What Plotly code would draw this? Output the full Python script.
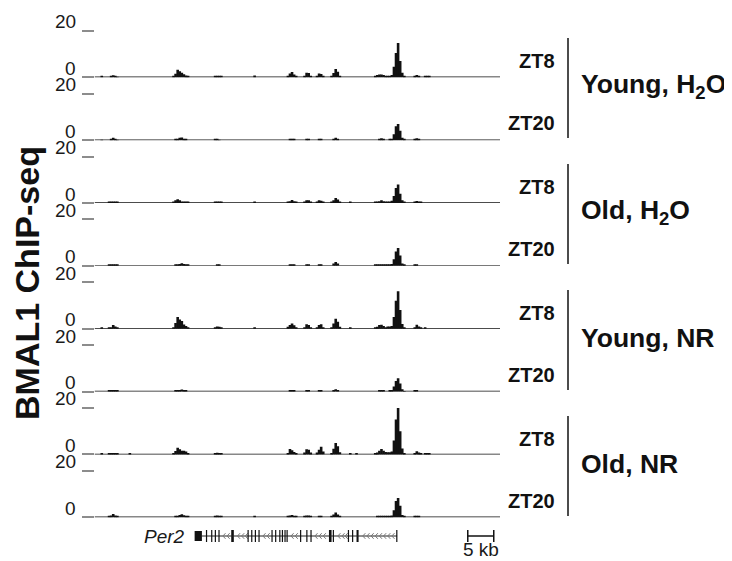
import plotly.graph_objects as go

# ---------------- data ----------------
track_names = ["Young H2O ZT8", "Young H2O ZT20", "Old H2O ZT8", "Old H2O ZT20",
               "Young NR ZT8", "Young NR ZT20", "Old NR ZT8", "Old NR ZT20"]

# genomic bin centres (kb) of the signal; 0.4 kb bins
bin_kb = [1.4, 2.8, 3.2, 3.6, 4.0, 4.4, 6.8,
          15.2, 15.6, 16.0, 16.4, 16.8, 17.2, 17.6, 18.0,
          23.2, 23.6, 24.0, 24.4,
          30.8,
          37.2, 37.6, 38.0, 38.4, 38.8,
          40.4, 40.8, 41.2, 41.6,
          42.8, 43.2, 43.6, 44.0,
          45.6, 46.0, 46.4, 46.8, 47.2,
          49.2, 50.4,
          54.0, 54.4, 54.8, 55.2, 55.6, 56.0, 56.4,
          56.8, 57.2, 57.6, 58.0, 58.4, 58.8, 59.2, 59.6,
          61.6, 62.0, 62.4, 62.8, 63.6, 64.0, 64.4]

young_h2o_zt8 = [0.4, 0, 0.3, 0.9, 0.6, 0.2, 0,
                 0.3, 1.5, 3.2, 2.6, 2.0, 1.3, 0.8, 0.3,
                 0.4, 0.6, 0.5, 0.3,
                 0.8,
                 0.6, 1.6, 2.3, 1.2, 0.5,
                 0.7, 2.0, 1.8, 0.6,
                 0.6, 1.6, 1.4, 0.5,
                 0.4, 1.8, 3.6, 2.4, 0.6,
                 0, 0,
                 0.3, 1.0, 1.2, 1.2, 1.0, 0.4, 0.5,
                 0.6, 1.0, 4.5, 10.5, 14.8, 7.0, 2.0, 0.4,
                 0.4, 1.0, 0.5, 0, 0.3, 0.4, 0.3]
young_h2o_zt20 = [0.2, 0, 0.3, 1.0, 0.6, 0.2, 0,
                  0, 0.4, 0.6, 1.0, 1.1, 0.6, 0.3, 0,
                  0.3, 0.4, 0.2, 0,
                  0,
                  0, 0.4, 0.4, 0.3, 0,
                  0, 0.4, 0.4, 0,
                  0, 0.4, 0.3, 0,
                  0, 0.6, 1.0, 0.6, 0,
                  0, 0,
                  0, 0, 0.6, 0.8, 0.5, 0, 0,
                  0.3, 0.5, 2.5, 6.0, 7.0, 4.0, 1.0, 0.3,
                  0.3, 0.8, 0.4, 0, 0, 0, 0]
old_h2o_zt8 = [0, 0.3, 0.4, 0.6, 0.4, 0.3, 0,
               0.3, 1.2, 1.6, 1.2, 0.6, 0.5, 0.4, 0.3,
               0.4, 0.4, 0.3, 0.4,
               0.4,
               0.3, 0.8, 1.3, 0.8, 0.3,
               0.4, 1.2, 1.2, 0.5,
               0.4, 1.2, 1.0, 0.3,
               0.3, 1.2, 2.2, 1.5, 0.3,
               0.4, 0,
               0.4, 0.6, 0.8, 1.2, 0.8, 0.5, 0.3,
               0.6, 1.0, 3.0, 6.5, 8.0, 4.0, 1.2, 0.3,
               0.5, 0.9, 0.4, 0.4, 0, 0, 0]
old_h2o_zt20 = [0, 0.3, 0.4, 0.7, 0.5, 0.3, 0,
                0, 0.4, 0.6, 0.8, 1.1, 0.8, 0.5, 0.3,
                0, 0.4, 0.4, 0,
                0,
                0, 0.4, 0.5, 0.3, 0,
                0, 0.4, 0.4, 0,
                0, 0.4, 0.3, 0,
                0, 1.0, 1.7, 1.0, 0,
                0, 0,
                0.3, 0.4, 0.4, 0.5, 0.5, 0.6, 0.6,
                0.6, 0.8, 2.8, 6.2, 7.7, 4.5, 1.0, 0.3,
                0.3, 0.5, 0, 0, 0, 0, 0]
young_nr_zt8 = [0.4, 0.3, 0.6, 1.6, 1.0, 0.4, 0,
                0.5, 2.5, 5.0, 4.0, 3.3, 1.8, 1.2, 0.5,
                0.4, 0.9, 0.8, 0.4,
                0.4,
                0.8, 1.6, 2.2, 1.5, 0.6,
                0.6, 1.9, 1.6, 0.5,
                0.5, 1.6, 1.9, 0.6,
                0.5, 2.2, 4.3, 3.0, 0.8,
                0.3, 0,
                0.3, 0.8, 1.6, 1.7, 1.2, 0.6, 0.9,
                0.9, 1.2, 5.0, 12.0, 16.1, 8.0, 2.0, 0.4,
                0.5, 1.7, 1.0, 0.4, 0.3, 0, 0]
young_nr_zt20 = [0, 0.3, 0.3, 0.5, 0.4, 0.3, 0,
                 0, 0.3, 0.5, 0.7, 0.9, 0.6, 0.4, 0,
                 0, 0, 0, 0,
                 0,
                 0, 0.4, 0.5, 0.3, 0,
                 0, 0.4, 0.3, 0,
                 0, 0.4, 0.3, 0,
                 0, 0.5, 1.0, 0.6, 0,
                 0, 0,
                 0, 0, 0.4, 0.5, 0.4, 0, 0,
                 0.3, 0.6, 2.2, 4.5, 5.7, 3.5, 1.0, 0.2,
                 0.3, 0.4, 0, 0, 0, 0, 0]
old_nr_zt8 = [0.4, 0.4, 0.4, 0.5, 0.4, 0.4, 0.4,
              0.4, 1.5, 2.9, 2.2, 1.6, 1.6, 1.2, 0.5,
              0.4, 0.7, 0.6, 0.3,
              0,
              0.6, 2.3, 1.8, 1.0, 0.5,
              0.8, 2.2, 2.0, 0.8,
              0.8, 2.0, 3.3, 1.2,
              0.6, 2.4, 4.9, 3.5, 0.9,
              0.4, 0.4,
              0.4, 0.8, 1.6, 2.3, 1.6, 1.0, 0.9,
              0.9, 1.3, 6.0, 15.0, 20.0, 10.0, 2.5, 0.5,
              0.6, 1.4, 0.8, 0.4, 0.4, 0.4, 0.4]
old_nr_zt20 = [0, 0.3, 0.8, 1.4, 0.8, 0.3, 0,
               0, 0.4, 0.6, 1.0, 1.3, 0.9, 0.5, 0.3,
               0.4, 0.7, 0.4, 0.4,
               0.4,
               0.3, 0.8, 1.0, 0.6, 0.3,
               0.3, 0.8, 0.8, 0.3,
               0, 0.4, 0.4, 0,
               0.3, 1.2, 2.0, 1.2, 0.3,
               0, 0,
               0, 0.4, 0.4, 0.4, 0.4, 0.4, 0.4,
               0.4, 0.8, 3.0, 7.0, 8.3, 5.0, 1.0, 0.3,
               0.4, 0.5, 0.4, 0, 0, 0, 0]

tracks = [young_h2o_zt8, young_h2o_zt20, old_h2o_zt8, old_h2o_zt20,
          young_nr_zt8, young_nr_zt20, old_nr_zt8, old_nr_zt20]

y_tick_vals = [0, 20]
y_tick_text = ["0", "20"]

# Per2 gene model (kb), minus strand
tx_start, tx_end = 19.26, 58.2
utr_start, utr_end = 19.26, 20.66
thin_exon_kb = [21.55, 22.55, 23.25, 23.95, 29.55, 30.25, 30.95, 31.65, 34.15, 34.85,
                35.65, 36.15, 36.65, 37.05, 39.65, 40.85, 41.65, 45.95, 48.85, 49.65, 58.15]
thick_exon_starts = [26.3, 45.1, 50.4]
thick_exon_ends = [26.8, 45.6, 50.8]
chevron_kb = [24.7, 25.5, 27.5, 28.3, 29.0, 32.4, 33.2, 37.8, 38.6, 42.4, 43.2, 44.0,
              46.8, 47.6, 48.2, 51.6, 52.4, 53.2, 54.0, 54.8, 55.6, 56.4, 57.2]

scale_start, scale_len = 71.8, 5.0

groups = ["Young, H<sub>2</sub>O", "Old, H<sub>2</sub>O", "Young, NR", "Old, NR"]
zt_labels = ["ZT8", "ZT20"]

# ---------------- layout helpers ----------------
# page is 732x561; the page body adds an 8 px margin, so the figure is 8 px smaller
OFF = 8
FW, FH = 732 - OFF, 561 - OFF
FONT = "Liberation Sans, Arial, Helvetica, sans-serif"
X_RANGE = [0, 78]
BASE0, STEP, TRACK_H = 77.3, 62.85, 46.5


def px_x(px):
    return (px - OFF) / FW


def px_y(px):
    return 1 - (px - OFF) / FH


fig = go.Figure()
layout = dict(
    width=FW, height=FH, margin=dict(l=0, r=0, t=0, b=0, pad=0),
    plot_bgcolor="white", paper_bgcolor="white",
    barmode="overlay", showlegend=False,
    font=dict(family=FONT, color="#1a1a1a"),
    xaxis=dict(domain=[px_x(94.5), px_x(500)], range=X_RANGE, visible=False, fixedrange=True),
)
shapes, annotations = [], []

for i, vals in enumerate(tracks):
    n = i + 1
    yname = "y" if n == 1 else f"y{n}"
    base_px = BASE0 + STEP * i
    fig.add_trace(go.Bar(x=bin_kb, y=vals, width=0.5, xaxis="x", yaxis=yname,
                         marker=dict(color="#111111", line=dict(width=0)),
                         hoverinfo="skip", name=track_names[i]))
    layout["yaxis" if n == 1 else f"yaxis{n}"] = dict(
        domain=[px_y(base_px), px_y(base_px - TRACK_H)], range=[0, 20], anchor="x",
        tickvals=y_tick_vals, ticks="outside", ticklen=12, tickwidth=1.5,
        tickcolor="#8c8c8c", showticklabels=False, showgrid=False,
        zeroline=False, showline=False, fixedrange=True)
    shapes.append(dict(type="line", xref="x", yref=yname, x0=X_RANGE[0], x1=X_RANGE[1],
                       y0=0, y1=0, line=dict(color="#111111", width=1.4)))
    for v, t in zip(y_tick_vals, y_tick_text):
        annotations.append(dict(xref="paper", yref=yname, x=px_x(78), y=v, text=t,
                                xanchor="right", yanchor="middle", yshift=9,
                                showarrow=False, font=dict(size=19, color="#1a1a1a")))

# gene model axis
gene_y = "y9"
layout["yaxis9"] = dict(domain=[px_y(546), px_y(526)], range=[-10, 10], anchor="x",
                        visible=False, fixedrange=True)
fig.add_trace(go.Scatter(x=[utr_end, tx_end], y=[0, 0], mode="lines", xaxis="x", yaxis=gene_y,
                         line=dict(color="#222222", width=1), hoverinfo="skip"))
chev_x, chev_y = [], []
for c in chevron_kb:
    chev_x += [c + 0.5, c, c + 0.5, None]
    chev_y += [2.8, 0, -2.8, None]
fig.add_trace(go.Scatter(x=chev_x, y=chev_y, mode="lines", xaxis="x", yaxis=gene_y,
                         line=dict(color="#777777", width=1), hoverinfo="skip"))
thin_x, thin_y = [], []
for e in thin_exon_kb:
    thin_x += [e, e, None]
    thin_y += [-6, 6, None]
fig.add_trace(go.Scatter(x=thin_x, y=thin_y, mode="lines", xaxis="x", yaxis=gene_y,
                         line=dict(color="#111111", width=1.2), hoverinfo="skip"))
fig.add_trace(go.Bar(x=[(utr_start + utr_end) / 2], y=[10], base=[-5],
                     width=[utr_end - utr_start], xaxis="x", yaxis=gene_y,
                     marker=dict(color="#111111", line=dict(width=0)), hoverinfo="skip"))
fig.add_trace(go.Bar(x=[(s + e) / 2 for s, e in zip(thick_exon_starts, thick_exon_ends)],
                     y=[12] * len(thick_exon_starts), base=[-6] * len(thick_exon_starts),
                     width=[e - s for s, e in zip(thick_exon_starts, thick_exon_ends)],
                     xaxis="x", yaxis=gene_y,
                     marker=dict(color="#111111", line=dict(width=0)), hoverinfo="skip"))
annotations.append(dict(xref="paper", yref=gene_y, x=px_x(187), y=0, text="<i>Per2</i>",
                        xanchor="right", yanchor="middle", showarrow=False,
                        font=dict(size=19, color="#1a1a1a")))

# scale bar
sb_x = [scale_start, scale_start, None, scale_start, scale_start + scale_len, None,
        scale_start + scale_len, scale_start + scale_len]
sb_y = [-6, 6, None, 0, 0, None, -6, 6]
fig.add_trace(go.Scatter(x=sb_x, y=sb_y, mode="lines", xaxis="x", yaxis=gene_y,
                         line=dict(color="#111111", width=1.5), hoverinfo="skip"))
annotations.append(dict(xref="x", yref="paper", x=scale_start + scale_len / 2, y=px_y(549.5),
                        text="5 kb", xanchor="center", yanchor="middle", showarrow=False,
                        borderpad=0, font=dict(size=19, color="#1a1a1a")))

# right-hand group labels
for g, name in enumerate(groups):
    top = 38 + 126 * g
    shapes.append(dict(type="line", xref="paper", yref="paper", x0=px_x(568), x1=px_x(568),
                       y0=px_y(top), y1=px_y(top + 100), line=dict(color="#111111", width=1.5)))
    annotations.append(dict(xref="paper", yref="paper", x=px_x(557), y=px_y(top + 23),
                            text=f"<b>{zt_labels[0]}</b>", xanchor="right", yanchor="middle",
                            showarrow=False, font=dict(size=20, color="#111111")))
    annotations.append(dict(xref="paper", yref="paper", x=px_x(557), y=px_y(top + 85),
                            text=f"<b>{zt_labels[1]}</b>", xanchor="right", yanchor="middle",
                            showarrow=False, font=dict(size=20, color="#111111")))
    annotations.append(dict(xref="paper", yref="paper", x=px_x(579), y=px_y(top + 48),
                            text=f"<b>{name}</b>", xanchor="left", yanchor="middle",
                            showarrow=False, font=dict(size=26.5, color="#111111")))

annotations.append(dict(xref="paper", yref="paper", x=px_x(27), y=px_y(283),
                        text="<b>BMAL1 ChIP-seq</b>", textangle=-90,
                        xanchor="center", yanchor="middle", showarrow=False,
                        font=dict(size=34, color="#111111")))

layout["shapes"] = shapes
layout["annotations"] = annotations
fig.update_layout(**layout)
fig.write_html("out.html")
